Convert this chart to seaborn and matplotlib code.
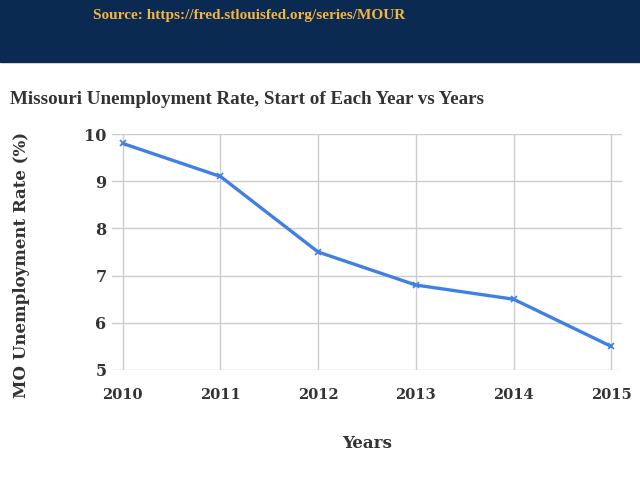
import seaborn as sns
import matplotlib.pyplot as plt
import pandas as pd

# values
years = [2010, 2011, 2012, 2013, 2014, 2015]
rates = [9.8, 9.1, 7.5, 6.8, 6.5, 5.5]
y_ticks = [5, 6, 7, 8, 9, 10]

data = pd.DataFrame({'Year': years, 'Rate': rates})

sns.set_style('white')
plt.rcParams['font.family'] = ['Liberation Serif', 'DejaVu Serif']
wide = ['DejaVu Serif']

fig = plt.figure(figsize=(6.4, 4.8), dpi=100)

# navy banner with the source line
fig.patches.append(plt.Rectangle((0, 1 - 62 / 480), 1, 62 / 480, transform=fig.transFigure,
                                 color='#0b2a51', zorder=0))
fig.text(93 / 640, 1 - 16 / 480, 'Source: https://fred.stlouisfed.org/series/MOUR',
         color='#f5b43f', fontsize=11, fontweight='bold', va='center', ha='left')

fig.text(10 / 640, 1 - 99 / 480, 'Missouri Unemployment Rate, Start of Each Year vs Years',
         color='#333333', fontsize=13.7, fontweight='bold', va='center', ha='left')

ax = fig.add_axes([112 / 640, 1 - 370 / 480, 510 / 640, 236 / 480])
sns.lineplot(data=data, x='Year', y='Rate', ax=ax, color='#4080e4', linewidth=2.4,
             marker='x', markersize=5, markeredgewidth=1.2, markeredgecolor='#4080e4')

ax.set_xlim(2009.89, 2015.11)
ax.set_ylim(5, 10)
ax.set_xticks(years)
ax.set_yticks(y_ticks)
ax.grid(True, color='#cccccc', linewidth=1)
for s in ax.spines.values():
    s.set_visible(False)
ax.tick_params(axis='x', length=0, labelsize=10.5, labelcolor='#333333', pad=13)
ax.tick_params(axis='y', length=0, labelsize=11.5, labelcolor='#333333', pad=4)
for lbl in ax.get_xticklabels() + ax.get_yticklabels():
    lbl.set_fontweight('bold')
    lbl.set_family(wide)

ax.set_xlabel('')
ax.set_ylabel('')
fig.text(367 / 640, 1 - 443 / 480, 'Years', fontsize=12, fontweight='bold', color='#333333',
         family=wide, ha='center', va='center')
fig.text(22 / 640, 1 - 265 / 480, 'MO Unemployment Rate (%)', fontsize=12, fontweight='bold',
         color='#333333', family=wide, rotation=90, ha='center', va='center')

fig.savefig('out.png', dpi=100)
